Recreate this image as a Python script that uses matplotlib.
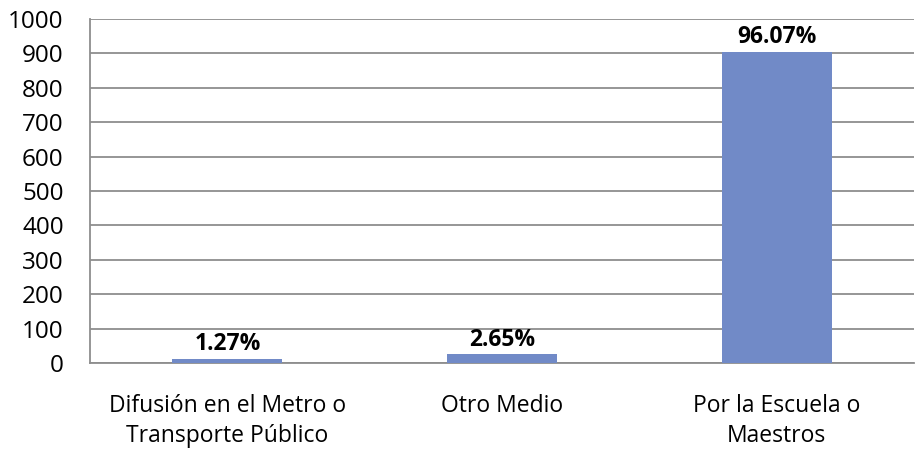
import matplotlib
import matplotlib.pyplot as plt

matplotlib.use('Agg')

categories = ['Difusión en el Metro o\nTransporte Público', 'Otro Medio',
              'Por la Escuela o\nMaestros']
counts = [12, 25, 905]
pct_labels = ['1.27%', '2.65%', '96.07%']
yticks = list(range(0, 1001, 100))

bar_color = '#718AC7'
grid_color = '#8E8E8E'

plt.rcParams['font.family'] = ['Open Sans', 'DejaVu Sans']

fig = plt.figure(figsize=(9.15, 4.5), dpi=100)
ax = fig.add_axes([0.0984, 0.1933, 0.9006, 0.7645])

xs = list(range(len(categories)))
bars = ax.bar(xs, counts, width=0.4, color=bar_color, zorder=3)

for b, lbl in zip(bars, pct_labels):
    ax.annotate(lbl, (b.get_x() + b.get_width() / 2, b.get_height()),
                xytext=(0, 2), textcoords='offset points',
                ha='center', va='bottom', fontsize=16.5, fontweight='bold',
                color='black')

ax.set_xlim(-0.5, len(categories) - 0.5)
ax.set_ylim(0, 1000)
ax.set_yticks(yticks)
ax.set_xticks(xs)
ax.set_xticklabels(categories, fontsize=16.5, linespacing=1.35)
ax.tick_params(axis='y', length=0, pad=19, labelsize=17.5)
ax.tick_params(axis='x', length=0, pad=22)

ax.yaxis.grid(True, color=grid_color, linewidth=1.3, zorder=0)
for side in ['top', 'right']:
    ax.spines[side].set_visible(False)
for side in ['left', 'bottom']:
    ax.spines[side].set_color(grid_color)
    ax.spines[side].set_linewidth(1.3)

plt.savefig('out.png', dpi=100)
plt.close(fig)
